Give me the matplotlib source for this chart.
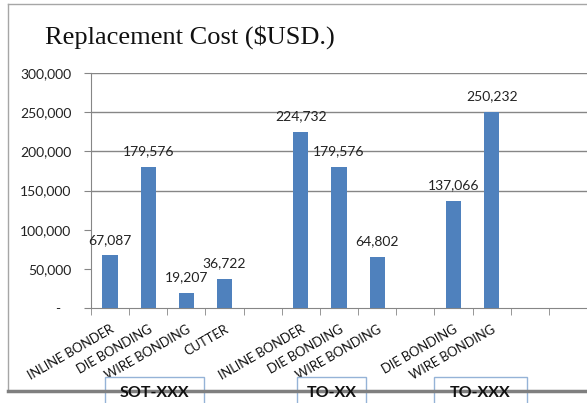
import matplotlib
matplotlib.use("Agg")
import matplotlib.pyplot as plt
from matplotlib.lines import Line2D
from matplotlib.patches import Rectangle
import numpy as np

categories = ["INLINE BONDER", "DIE BONDING", "WIRE BONDING", "CUTTER", "",
              "INLINE BONDER", "DIE BONDING", "WIRE BONDING", "",
              "DIE BONDING", "WIRE BONDING", "", ""]
values = [67087, 179576, 19207, 36722, None,
          224732, 179576, 64802, None,
          137066, 250232, None, None]
yticks = [0, 50000, 100000, 150000, 200000, 250000, 300000]
ytick_labels = ["-   ", "50,000", "100,000", "150,000", "200,000", "250,000", "300,000"]
groups = ["SOT-XXX", "TO-XX", "TO-XXX"]
title = "Replacement Cost ($USD.)"

W, H = 587, 403
fig = plt.figure(figsize=(W / 100, H / 100), dpi=100)
fig.patch.set_facecolor("white")

ax_left, ax_right, ax_top, ax_bot = 91, 587, 73, 308
ax = fig.add_axes([ax_left / W, 1 - ax_bot / H, (ax_right - ax_left) / W, (ax_bot - ax_top) / H])

n = len(categories)
x = np.arange(n)
bar_color = "#4F81BD"
for i, v in enumerate(values):
    if v is None:
        continue
    ax.bar(i, v, width=0.4, color=bar_color, zorder=3)
    ax.annotate(f"{v:,}", (i, v), xytext=(0, 7), textcoords="offset points",
                ha="center", va="bottom", fontsize=10, family="Lato", color="#222222")

ax.set_xlim(-0.5, n - 0.5)
ax.set_ylim(0, 300000)

grid_color = "#868686"
for g in [150000, 200000, 250000, 300000]:
    ax.axhline(g, color=grid_color, lw=1.0, zorder=1)

for s in ["top", "right"]:
    ax.spines[s].set_visible(False)
ax.spines["left"].set_color(grid_color)
ax.spines["bottom"].set_color(grid_color)

ax.set_yticks(yticks)
ax.set_yticklabels(ytick_labels, family="Lato", fontsize=10, color="#222222")
ax.tick_params(axis="y", length=5, color=grid_color, pad=9)

ax.set_xticks(x)
ax.set_xticklabels(categories, rotation=30, ha="right", rotation_mode="anchor",
                   family="Lato", fontsize=9.3, color="#111111")
ax.tick_params(axis="x", which="major", length=0, pad=11)
ax.set_xticks(np.arange(n + 1) - 0.5, minor=True)
ax.tick_params(axis="x", which="minor", length=5, color=grid_color)

# Title
fig.text(45 / W, 1 - 37 / H, title, family="Liberation Serif", fontsize=19,
         ha="left", va="center", color="#111111")

# Chart area border
fig.add_artist(Line2D([8 / W, 8 / W], [1 - 4 / H, 1 - 391 / H], color="#A6A6A6", lw=1.0))
fig.add_artist(Line2D([8 / W, 1.0], [1 - 4 / H, 1 - 4 / H], color="#A6A6A6", lw=1.0))
fig.add_artist(Line2D([8 / W, 1.0], [1 - 391 / H, 1 - 391 / H], color="#7F7F7F", lw=2.5))

# Group boxes
boxes = [(105, 204), (297, 366), (434, 527)]
for (x0, x1), lab in zip(boxes, groups):
    fig.add_artist(Rectangle((x0 / W, 1 - 410 / H), (x1 - x0) / W, 33 / H,
                             transform=fig.transFigure, facecolor="white",
                             edgecolor="#95B3D7", lw=1.0))
    fig.text((x0 + x1) / 2 / W, 1 - 393 / H, lab, ha="center", va="center",
             family="Lato", fontsize=11.5, fontweight="bold", color="#111111")

fig.savefig("out.png", dpi=100)
